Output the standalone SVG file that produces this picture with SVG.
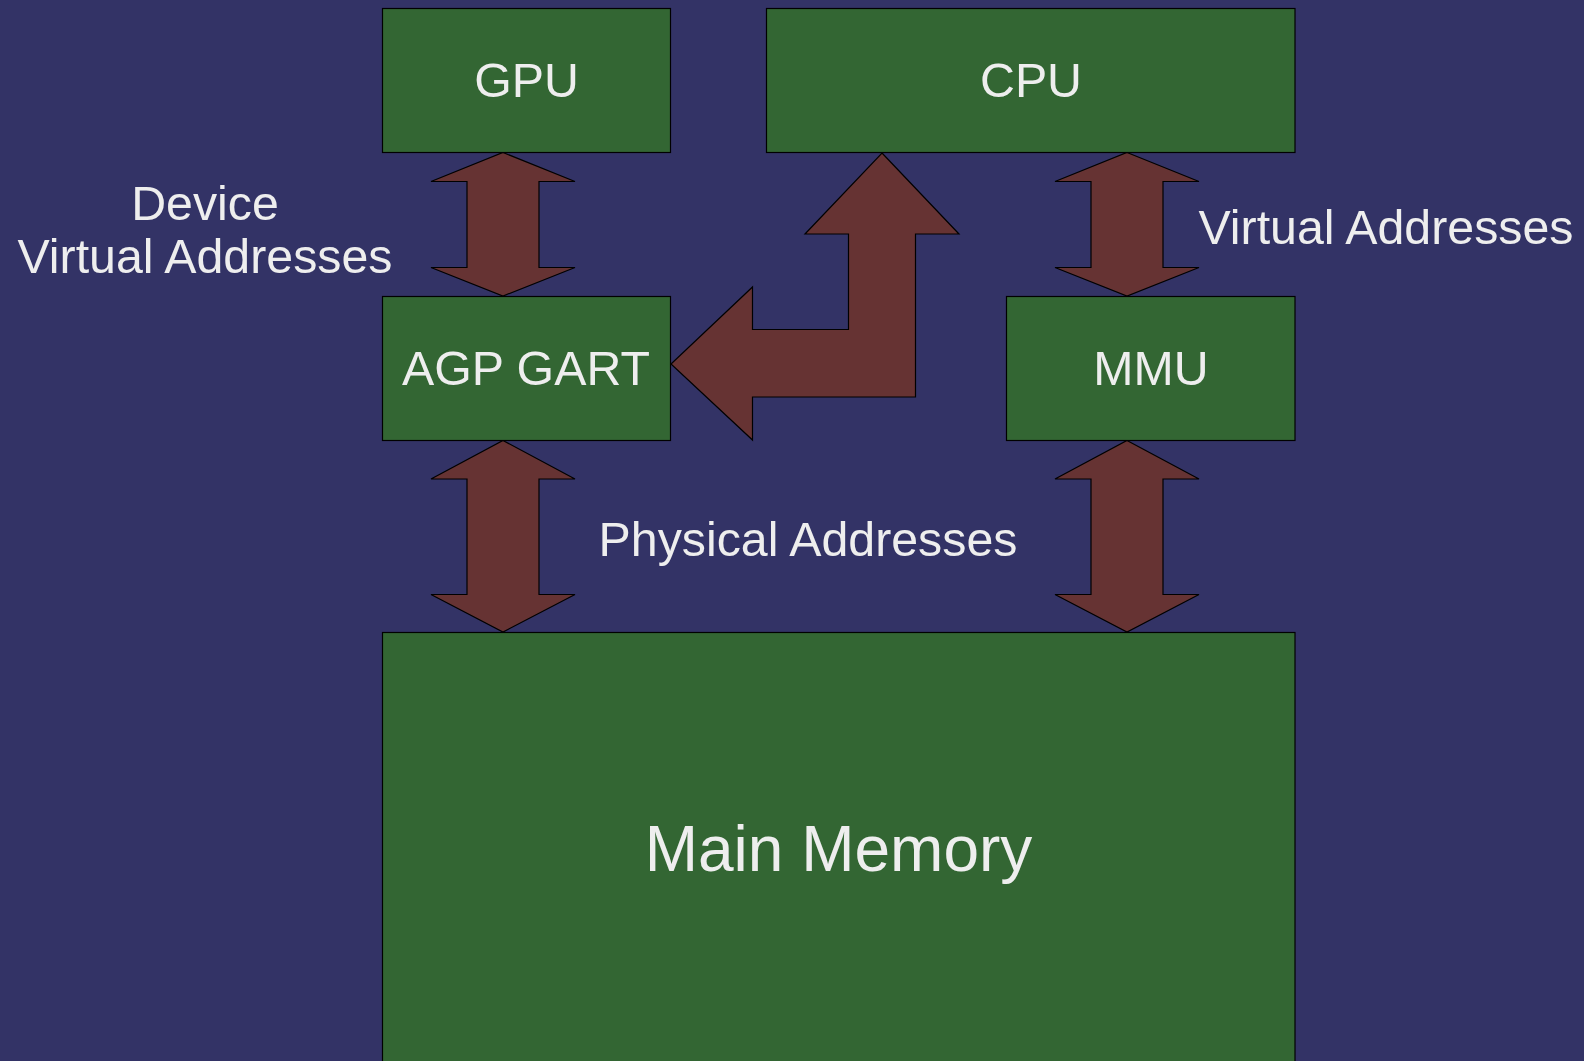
<svg xmlns="http://www.w3.org/2000/svg" width="1584" height="1061" viewBox="0 0 1584 1061">
<style>
.box{fill:#336633;stroke:#000;stroke-width:1.2}
.arr{fill:#663333;stroke:#000;stroke-width:1.2;stroke-linejoin:miter}
text{font-family:"Liberation Sans",Arial,sans-serif;fill:#eeeeee;text-anchor:middle}
.n{font-size:48.3px}
.big{font-size:64px}
</style>
<rect width="1584" height="1061" fill="#333366"/>
<g id="connectors">
<polygon class="arr" points="503,152.5 575,181.5 539,181.5 539,267.5 575,267.5 503,296 431,267.5 467,267.5 467,181.5 431,181.5"/>
<polygon class="arr" points="1127,152.5 1199,181.5 1163,181.5 1163,267.5 1199,267.5 1127,296 1055,267.5 1091,267.5 1091,181.5 1055,181.5"/>
<polygon class="arr" points="503,440.5 575,479 539,479 539,594.5 575,594.5 503,632 431,594.5 467,594.5 467,479 431,479"/>
<polygon class="arr" points="1127,440.5 1199,479 1163,479 1163,594.5 1199,594.5 1127,632 1055,594.5 1091,594.5 1091,479 1055,479"/>
<polygon class="arr" points="882,153 959,234 915.5,234 915.5,397 752.5,397 752.5,440 671,364 752.5,287 752.5,329.5 848.5,329.5 848.5,234 805,234"/>
</g>
<g id="gpu"><rect class="box" x="382.5" y="8.5" width="288" height="144"/><text class="n" x="526.5" y="97">GPU</text></g>
<g id="cpu"><rect class="box" x="766.5" y="8.5" width="528.5" height="144"/><text class="n" x="1031" y="97">CPU</text></g>
<g id="agp"><rect class="box" x="382.5" y="296.5" width="288" height="144"/><text class="n" x="526" y="385">AGP GART</text></g>
<g id="mmu"><rect class="box" x="1006.5" y="296.5" width="288.5" height="144"/><text class="n" x="1151" y="385">MMU</text></g>
<g id="mem"><rect class="box" x="382.5" y="632.5" width="912.5" height="440"/><text class="big" x="838.5" y="871">Main Memory</text></g>
<g id="labels">
<text class="n" x="205" y="219.5">Device</text>
<text class="n" x="205" y="273">Virtual Addresses</text>
<text class="n" x="1386" y="243.5">Virtual Addresses</text>
<text class="n" x="808" y="556">Physical Addresses</text>
</g>
</svg>
